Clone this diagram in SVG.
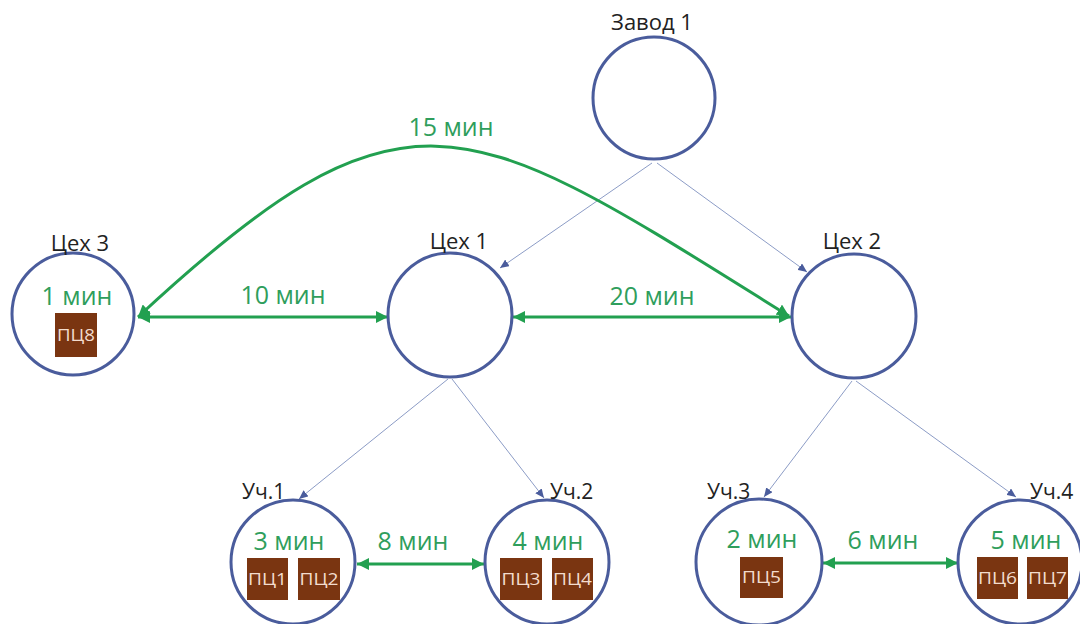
<svg xmlns="http://www.w3.org/2000/svg" width="1080" height="624" viewBox="0 0 1080 624">
<style>
.n{fill:#fff;stroke:#4a5c9c;stroke-width:3}
.lbl{font-family:"Open Sans","Liberation Sans",sans-serif;font-size:22px;fill:#222;text-anchor:middle}
.lbs{font-family:"Open Sans","Liberation Sans",sans-serif;font-size:21px;fill:#222}
.t{font-family:"Open Sans","Liberation Sans",sans-serif;font-size:25px;fill:#2f9e5c;text-anchor:middle}
.box{fill:#7a3511}
.bt{font-family:"Open Sans","Liberation Sans",sans-serif;font-size:17px;fill:#f3dccd;text-anchor:middle}
.g{fill:none;stroke:#22a050;stroke-width:3}
.b{fill:none;stroke:#8c9cc6;stroke-width:1}
</style>
<defs>
<marker id="ga" markerUnits="userSpaceOnUse" markerWidth="14" markerHeight="12" refX="12" refY="6" orient="auto-start-reverse">
<path d="M0,0 L12,6 L0,12 Z" fill="#22a050"/>
</marker>
<marker id="ba" markerUnits="userSpaceOnUse" markerWidth="10" markerHeight="8" refX="9" refY="4" orient="auto">
<path d="M0,0 L9,4 L0,8 Z" fill="#4a5c9c"/>
</marker>
</defs>
<g id="connectors">
<line class="b" x1="652" y1="163" x2="500" y2="268" marker-end="url(#ba)"/>
<line class="b" x1="657" y1="163" x2="807" y2="272" marker-end="url(#ba)"/>
<line class="b" x1="448" y1="379" x2="299" y2="499" marker-end="url(#ba)"/>
<line class="b" x1="452" y1="379" x2="544" y2="498" marker-end="url(#ba)"/>
<line class="b" x1="852" y1="381" x2="764" y2="497" marker-end="url(#ba)"/>
<line class="b" x1="856" y1="381" x2="1016" y2="497" marker-end="url(#ba)"/>
<path class="g" d="M138,317 C410,64 468,116 789,316" marker-start="url(#ga)" marker-end="url(#ga)"/>
<line class="g" x1="138" y1="317" x2="388" y2="317" marker-start="url(#ga)" marker-end="url(#ga)"/>
<line class="g" x1="513" y1="317" x2="791" y2="317" marker-start="url(#ga)" marker-end="url(#ga)"/>
<line class="g" x1="357" y1="564" x2="484" y2="564" marker-start="url(#ga)" marker-end="url(#ga)"/>
<line class="g" x1="823" y1="563" x2="958" y2="563" marker-start="url(#ga)" marker-end="url(#ga)"/>
<text class="t" x="451" y="136">15 мин</text>
<text class="t" x="283" y="304">10 мин</text>
<text class="t" x="652" y="305">20 мин</text>
<text class="t" x="413" y="550">8 мин</text>
<text class="t" x="883" y="549">6 мин</text>
</g>
<g id="zavod1">
<circle class="n" cx="654" cy="98" r="61"/>
<text class="lbl" x="652" y="30">Завод 1</text>
</g>
<g id="ceh1">
<circle class="n" cx="450" cy="315" r="62"/>
<text class="lbl" x="459" y="249">Цех 1</text>
</g>
<g id="ceh2">
<circle class="n" cx="854" cy="316" r="62"/>
<text class="lbl" x="852" y="249">Цех 2</text>
</g>
<g id="ceh3">
<circle class="n" cx="73" cy="314" r="61"/>
<text class="lbl" x="80" y="251">Цех 3</text>
<text class="t" x="77" y="305">1 мин</text>
<rect class="box" x="55" y="313" width="42" height="44"/>
<text class="bt" x="76" y="341" textLength="38" lengthAdjust="spacingAndGlyphs">ПЦ8</text>
</g>
<g id="uch1">
<circle class="n" cx="293" cy="562" r="62"/>
<text class="lbs" x="242" y="499">Уч.1</text>
<text class="t" x="289" y="550">3 мин</text>
<rect class="box" x="247" y="558" width="41" height="42"/>
<text class="bt" x="267.5" y="585" textLength="39" lengthAdjust="spacingAndGlyphs">ПЦ1</text>
<rect class="box" x="298" y="558" width="42" height="42"/>
<text class="bt" x="319" y="585" textLength="39" lengthAdjust="spacingAndGlyphs">ПЦ2</text>
</g>
<g id="uch2">
<circle class="n" cx="547" cy="562" r="62"/>
<text class="lbs" x="550" y="499">Уч.2</text>
<text class="t" x="548" y="550">4 мин</text>
<rect class="box" x="500" y="558" width="42" height="42"/>
<text class="bt" x="521" y="585" textLength="39" lengthAdjust="spacingAndGlyphs">ПЦ3</text>
<rect class="box" x="552" y="558" width="41" height="42"/>
<text class="bt" x="572.5" y="585" textLength="39" lengthAdjust="spacingAndGlyphs">ПЦ4</text>
</g>
<g id="uch3">
<circle class="n" cx="759" cy="562" r="63"/>
<text class="lbs" x="707" y="499">Уч.3</text>
<text class="t" x="762" y="548">2 мин</text>
<rect class="box" x="740" y="557" width="43" height="41"/>
<text class="bt" x="761.5" y="583" textLength="39" lengthAdjust="spacingAndGlyphs">ПЦ5</text>
</g>
<g id="uch4">
<circle class="n" cx="1020" cy="562" r="62"/>
<text class="lbs" x="1030" y="499">Уч.4</text>
<text class="t" x="1026" y="549">5 мин</text>
<rect class="box" x="977" y="557" width="41" height="42"/>
<text class="bt" x="997.5" y="584" textLength="39" lengthAdjust="spacingAndGlyphs">ПЦ6</text>
<rect class="box" x="1027" y="557" width="41" height="42"/>
<text class="bt" x="1047.5" y="584" textLength="39" lengthAdjust="spacingAndGlyphs">ПЦ7</text>
</g>
</svg>
